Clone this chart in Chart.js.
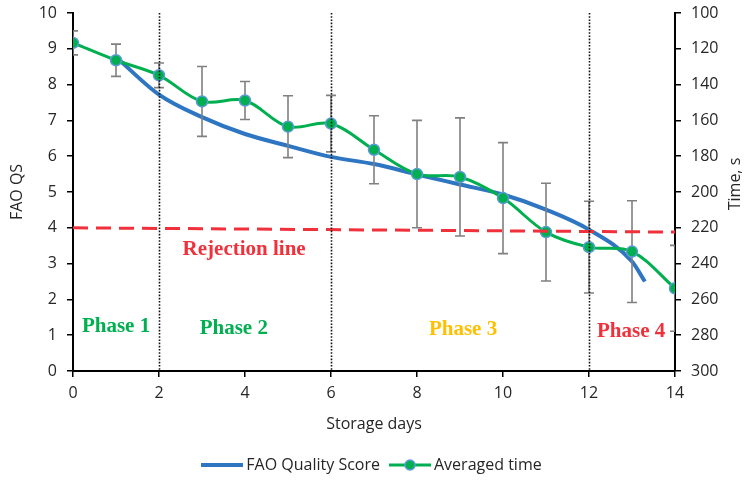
<!DOCTYPE html>
<html>
<head>
<meta charset="utf-8">
<script src="https://cdn.jsdelivr.net/npm/chart.js@4/dist/chart.umd.min.js"></script>
<style>
  html, body { margin: 0; padding: 0; background: #ffffff; }
  #wrap { width: 748px; height: 486px; position: relative; }
</style>
</head>
<body>
<div id="wrap"><canvas id="c"></canvas></div>
<script>
// Averaged sensory evaluation time per storage day (seconds) with its spread
const days = [0, 1, 2, 3, 4, 5, 6, 7, 8, 9, 10, 11, 12, 13, 14];
const avgTime = [116.7, 126.4, 134.8, 149.4, 148.9, 163.5, 161.8, 176.4, 190.0, 191.6, 203.4, 222.4, 230.8, 233.3, 253.8];
const timeErr = [6.7, 9.0, 6.9, 19.5, 10.6, 17.3, 15.8, 19.0, 30.0, 33.0, 31.0, 27.3, 25.6, 28.4, 24.0];

// FAO quality score curve
const qsDays = [1, 2, 3, 4, 5, 6, 7, 8, 9, 10, 11, 12, 13, 13.3];
const qsScore = [8.77, 7.72, 7.09, 6.62, 6.29, 5.98, 5.78, 5.49, 5.21, 4.93, 4.51, 3.95, 3.06, 2.50];

// Rejection threshold
const rejectDays = [0, 14];
const rejectScore = [4.0, 3.88];

// Phase boundaries and labels
const phaseBounds = [2, 6, 12];
const phaseNames = ['Phase 1', 'Phase 2', 'Phase 3', 'Phase 4'];
const phaseColors = ['#00B050', '#00B050', '#FFC000', '#F0303A'];
const rejectLabel = 'Rejection line';

const GREEN = '#00B050';
const BLUE = '#2E75C2';
const RED = '#F0303A';
const AXIS_TXT = '#262626';
const FONT = 'Open Sans';
const TICK_FONT = { family: FONT, size: 16 };

const toXY = (xs, ys) => xs.map((x, i) => ({ x: x, y: ys[i] }));

// legend swatches: plain line for the score, line + marker for the time series
function swatch(color, withDot) {
  const cv = document.createElement('canvas');
  cv.width = 42; cv.height = 14;
  const g = cv.getContext('2d');
  g.strokeStyle = color; g.lineWidth = withDot ? 3 : 4;
  g.beginPath(); g.moveTo(0, 7); g.lineTo(42, 7); g.stroke();
  if (withDot) {
    g.beginPath(); g.arc(21, 7, 5, 0, Math.PI * 2);
    g.fillStyle = GREEN; g.fill();
    g.lineWidth = 1.5; g.strokeStyle = '#5B9BD5'; g.stroke();
  }
  return cv;
}
const blueSwatch = swatch(BLUE, false);
const greenSwatch = swatch(GREEN, true);

const errorBars = {
  id: 'errorBars',
  beforeDatasetDraw(chart, args) {
    if (args.index !== 1) return;
    const { ctx, chartArea: a } = chart;
    const xs = chart.scales.x, ys = chart.scales.y1;
    ctx.save();
    ctx.beginPath(); ctx.rect(a.left, a.top, a.right - a.left, a.bottom - a.top); ctx.clip();
    ctx.strokeStyle = '#808080'; ctx.lineWidth = 1.6;
    days.forEach((d, i) => {
      const px = xs.getPixelForValue(d);
      const top = ys.getPixelForValue(avgTime[i] - timeErr[i]);
      const bot = ys.getPixelForValue(avgTime[i] + timeErr[i]);
      ctx.beginPath();
      ctx.moveTo(px, top); ctx.lineTo(px, bot);
      ctx.moveTo(px - 5, top); ctx.lineTo(px + 5, top);
      ctx.moveTo(px - 5, bot); ctx.lineTo(px + 5, bot);
      ctx.stroke();
    });
    ctx.restore();
  }
};

const annotations = {
  id: 'annotations',
  afterDatasetsDraw(chart) {
    const { ctx, chartArea: a } = chart;
    const xs = chart.scales.x, ys = chart.scales.y;
    ctx.save();
    // dotted phase dividers
    ctx.strokeStyle = '#111'; ctx.lineWidth = 1.6; ctx.setLineDash([1.6, 1.6]);
    phaseBounds.forEach(d => {
      const px = Math.round(xs.getPixelForValue(d)) + 0.5;
      ctx.beginPath(); ctx.moveTo(px, a.top); ctx.lineTo(px, a.bottom); ctx.stroke();
    });
    ctx.setLineDash([]);
    // phase and threshold labels
    ctx.font = "bold 21px 'Liberation Serif'";
    ctx.textAlign = 'center'; ctx.textBaseline = 'middle';
    const phaseX = [1.0, 3.74, 9.07, 12.98];
    const phaseY = [1.24, 1.18, 1.15, 1.1];
    phaseNames.forEach((t, i) => {
      ctx.fillStyle = phaseColors[i];
      ctx.fillText(t, xs.getPixelForValue(phaseX[i]), ys.getPixelForValue(phaseY[i]));
    });
    ctx.fillStyle = RED;
    ctx.fillText(rejectLabel, xs.getPixelForValue(3.98), ys.getPixelForValue(3.4));
    ctx.restore();
  },
  afterDraw(chart) {
    const { ctx, chartArea: a } = chart;
    ctx.save();
    ctx.font = "16px '" + FONT + "'";
    ctx.fillStyle = AXIS_TXT;
    ctx.textAlign = 'center'; ctx.textBaseline = 'middle';
    ctx.translate(735, (a.top + a.bottom) / 2 - 8);
    ctx.rotate(-Math.PI / 2);
    ctx.fillText('Time, s', 0, 0);
    ctx.restore();
  }
};

// fixed-width vertical axes; their end labels need no extra room
function fitVertical(s) {
  s.width = 73;
  s.paddingTop = 0;
  s.paddingBottom = 0;
}

new Chart(document.getElementById('c'), {
  type: 'line',
  data: {
    datasets: [
      {
        label: 'FAO Quality Score',
        data: toXY(qsDays, qsScore),
        yAxisID: 'y',
        borderColor: BLUE,
        borderWidth: 4,
        pointRadius: 0,
        cubicInterpolationMode: 'monotone',
        order: 3
      },
      {
        label: 'Averaged time',
        data: toXY(days, avgTime),
        yAxisID: 'y1',
        borderColor: GREEN,
        borderWidth: 3,
        tension: 0.35,
        pointRadius: 5.5,
        pointBackgroundColor: GREEN,
        pointBorderColor: '#5B9BD5',
        pointBorderWidth: 1.5,
        order: 2,
        pointStyle: 'circle'
      },
      {
        label: 'rejection',
        data: toXY(rejectDays, rejectScore),
        yAxisID: 'y',
        borderColor: RED,
        borderWidth: 3,
        borderDash: [15, 8],
        pointRadius: 0,
        order: 1
      }
    ]
  },
  options: {
    responsive: true,
    maintainAspectRatio: false,
    animation: false,
    layout: { padding: { top: 13, right: 0, left: 0, bottom: 3 } },
    plugins: {
      legend: {
        position: 'bottom',
        labels: {
          usePointStyle: true,
          pointStyleWidth: 32,
          boxHeight: 14,
          padding: 14,
          color: AXIS_TXT,
          font: { family: FONT, size: 16 },
          generateLabels() {
            return [
              { text: 'FAO Quality Score', pointStyle: blueSwatch, datasetIndex: 0, fontColor: AXIS_TXT, lineWidth: 0, strokeStyle: 'transparent', fillStyle: 'transparent' },
              { text: 'Averaged time', pointStyle: greenSwatch, datasetIndex: 1, fontColor: AXIS_TXT, lineWidth: 0, strokeStyle: 'transparent', fillStyle: 'transparent' }
            ];
          }
        }
      },
      tooltip: { enabled: false }
    },
    scales: {
      x: {
        type: 'linear',
        min: 0, max: 14,
        ticks: { stepSize: 2, color: AXIS_TXT, font: TICK_FONT, padding: 7 },
        grid: { drawOnChartArea: false, drawTicks: true, tickLength: 6, color: '#000', lineWidth: 1.5 },
        border: { display: true, color: '#000', width: 2 },
        title: { display: true, text: 'Storage days', color: AXIS_TXT, font: { family: FONT, size: 16 }, padding: { top: 8, bottom: 9.4 } },
        afterFit(s) { s.height = 72; }
      },
      y: {
        position: 'left',
        min: 0, max: 10,
        ticks: { stepSize: 1, color: AXIS_TXT, font: TICK_FONT, padding: 10 },
        grid: { drawOnChartArea: false, drawTicks: true, tickLength: 6, color: '#000', lineWidth: 1.5 },
        border: { display: true, color: '#000', width: 2 },
        title: { display: true, text: 'FAO QS', color: AXIS_TXT, font: { family: FONT, size: 16 }, padding: { top: 8, bottom: 0 } },
        afterFit: fitVertical
      },
      y1: {
        position: 'right',
        reverse: true,
        min: 100, max: 300,
        ticks: { stepSize: 20, color: AXIS_TXT, font: TICK_FONT, padding: 10 },
        grid: { drawOnChartArea: false, drawTicks: true, tickLength: 6, color: '#000', lineWidth: 1.5 },
        border: { display: true, color: '#000', width: 2 },
        afterFit: fitVertical
      }
    }
  },
  plugins: [errorBars, annotations]
});
</script>
</body>
</html>
